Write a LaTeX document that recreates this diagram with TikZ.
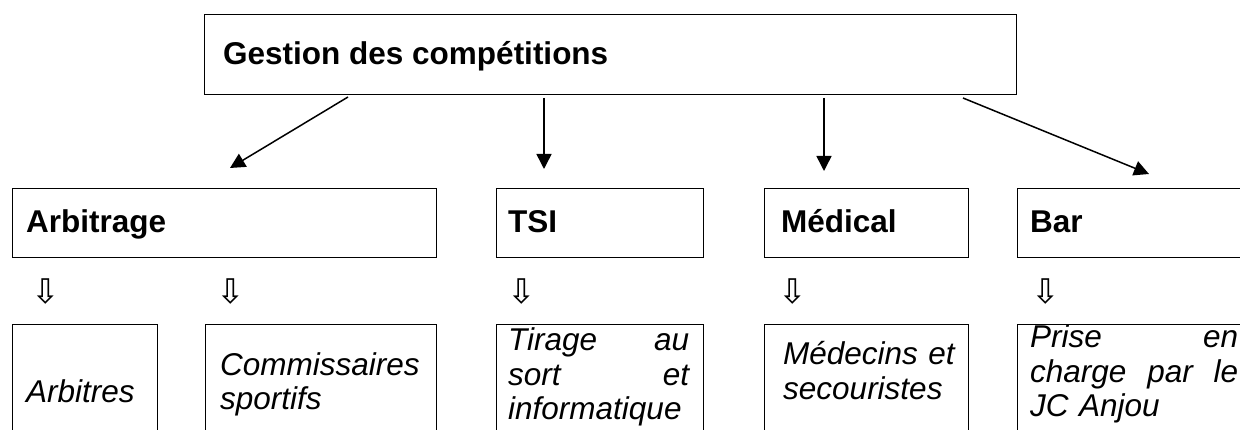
\documentclass[tikz,border=0pt]{standalone}
\usepackage{fontspec}
\setmainfont{Liberation Sans}
\newfontfamily\symfont{DejaVu Sans}
\usetikzlibrary{arrows.meta}
\begin{document}
\begin{tikzpicture}[x=1pt,y=-1pt,
  box/.style={draw=black,line width=1.2pt,inner sep=0pt,anchor=north west},
  hd/.style={inner sep=0pt,anchor=base west,font=\fontsize{31.5}{36}\selectfont\bfseries},
  it/.style={inner sep=0pt,anchor=base west,align=left,font=\fontsize{31.5}{34.5}\selectfont\itshape},
  arr/.style={line width=1.5pt,-{Triangle[length=15pt,width=15pt]}},
  dn/.style={inner sep=0pt,font=\symfont\fontsize{34}{34}\selectfont}]
\useasboundingbox (0,0) rectangle (1240,430);
\clip (0,0) rectangle (1240,430);
% boxes
\node[box,minimum width=812pt,minimum height=80pt] (top) at (204,14) {};
\node[box,minimum width=424pt,minimum height=69pt] (arb) at (12,188) {};
\node[box,minimum width=207pt,minimum height=69pt] (tsi) at (496,188) {};
\node[box,minimum width=204pt,minimum height=69pt] (med) at (764,188) {};
\node[box,minimum width=240pt,minimum height=69pt] (bar) at (1017,188) {};
\node[box,minimum width=145pt,minimum height=140pt] (barb) at (12,324) {};
\node[box,minimum width=231pt,minimum height=140pt] (comb) at (205,324) {};
\node[box,minimum width=207pt,minimum height=140pt] (tsib) at (496,324) {};
\node[box,minimum width=204pt,minimum height=140pt] (medb) at (764,324) {};
\node[box,minimum width=240pt,minimum height=140pt] (barbb) at (1017,324) {};
% headings
\node[hd] (ttop) at (223,65) {Gestion des compétitions};
\node[hd] (tarb) at (26,233) {Arbitrage};
\node[hd] (ttsi) at (508,233) {TSI};
\node[hd] (tmed) at (781,233) {Médical};
\node[hd] (tbar) at (1030,233) {Bar};
% small arrows
\node[dn] (d1) at (46,292) {⇩};
\node[dn] (d2) at (231,292) {⇩};
\node[dn] (d3) at (522,292) {⇩};
\node[dn] (d4) at (793,292) {⇩};
\node[dn] (d5) at (1046,292) {⇩};
% bottom texts
\node[it] (t1) at (26,402) {Arbitres};
\node[it,text width=210pt] (t2) at (220,375) {Commissaires\\sportifs};
\node[it,text width=181pt] (t3) at (508,351) {Tirage\hfill au\\sort\hfill et\\informatique};
\node[it,text width=180pt] (t4) at (783,365) {Médecins et\\secouristes};
\node[it,text width=208pt] (t5) at (1030,348) {Prise\hfill en\\charge\hfill par\hfill le\\JC Anjou};
% connectors
\coordinate (s1) at (348,97); \coordinate (e1) at (230,168);
\coordinate (s2) at (544,98); \coordinate (e2) at (544,169);
\coordinate (s3) at (824,98); \coordinate (e3) at (824,171);
\coordinate (s4) at (963,98); \coordinate (e4) at (1149,174);
\draw[arr] (s1) -- (e1);
\draw[arr] (s2) -- (e2);
\draw[arr] (s3) -- (e3);
\draw[arr] (s4) -- (e4);
\end{tikzpicture}
\end{document}
